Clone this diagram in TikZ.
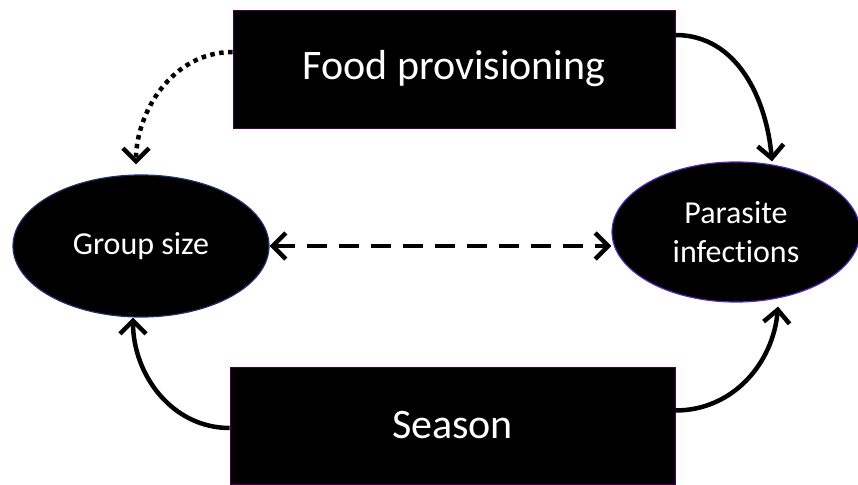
\documentclass[tikz,border=0pt]{standalone}
\usepackage{fontspec}
\setmainfont[RawFeature=-liga]{Carlito}
\usetikzlibrary{shapes.geometric,arrows.meta}
\tikzset{
  factor/.style={rectangle, fill=black, draw=violet!60!black, line width=0.8pt, text=white, inner sep=0pt, font=\fontsize{42}{48}\selectfont},
  outcome/.style={ellipse, fill=black, line width=1.2pt, text=white, inner sep=0pt, align=center, font=\fontsize{32}{39}\selectfont},
  link/.style={line width=4.5pt, -{Straight Barb[length=13pt,width=26pt,line width=4.5pt]}}
}
\begin{document}
\begin{tikzpicture}[x=1pt,y=-1pt]
\useasboundingbox (0,0) rectangle (858,484);
\node[factor, minimum width=442pt, minimum height=118pt] (food) at (454,69) {Food provisioning};
\node[factor, minimum width=445pt, minimum height=117pt] (season) at (452.5,425.5) {Season};
\node[outcome, draw={rgb,255:red,30;green,50;blue,110}, minimum width=256pt, minimum height=142pt] (group) at (141,246) {Group size};
\node[outcome, draw={rgb,255:red,90;green,40;blue,190}, minimum width=248pt, minimum height=140pt] (parasite) at (736,232) {Parasite\\infections};
% arrows
\draw[link, dash pattern=on 4.5pt off 4.5pt, shorten >=10pt] ([yshift=17pt]food.west) to[out=180,in=90] ([xshift=-5pt]group.north);
\draw[link] ([yshift=34pt]food.east) to[out=0,in=95] ([xshift=36pt]parasite.north);
\draw[link] ([yshift=-2.5pt]season.west) to[out=180,in=-90] ([xshift=-8pt]group.south);
\draw[link] ([yshift=15pt]season.east) to[out=0,in=-95] ([xshift=42pt,yshift=-4pt]parasite.south);
\draw[link, {Straight Barb[length=13pt,width=26pt,line width=4.5pt]}-{Straight Barb[length=13pt,width=26pt,line width=4.5pt]}, dash pattern=on 20pt off 12pt] (group.east) -- (group.east -| parasite.west);
\end{tikzpicture}
\end{document}
